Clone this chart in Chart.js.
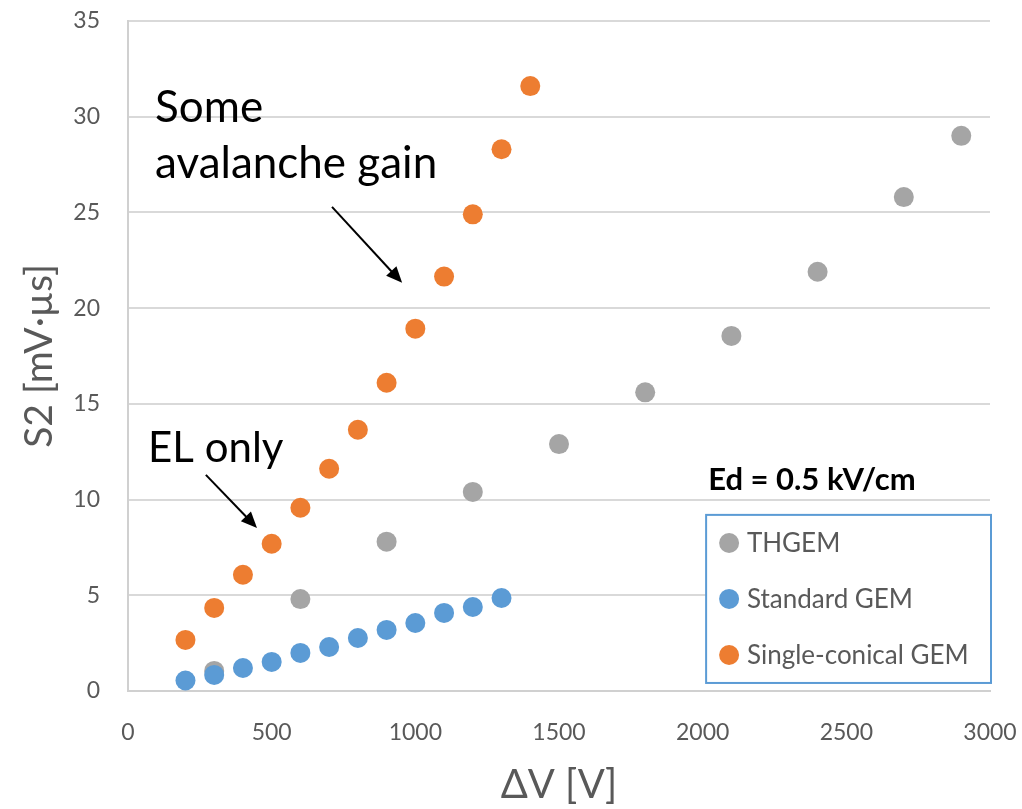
<!DOCTYPE html>
<html>
<head>
<meta charset="utf-8">
<script src="https://cdn.jsdelivr.net/npm/chart.js@4.4.0/dist/chart.umd.min.js"></script>
<style>
  html, body { margin: 0; padding: 0; background: #fff; }
  #wrap { width: 1022px; height: 809px; position: relative; }
</style>
</head>
<body>
<div id="wrap"><canvas id="myChart"></canvas></div>
<script>
// data
var thgemX = [300, 600, 900, 1200, 1500, 1800, 2100, 2400, 2700, 2900];
var thgemY = [1.05, 4.8, 7.8, 10.4, 12.9, 15.6, 18.55, 21.9, 25.8, 29.0];
var stdX = [200, 300, 400, 500, 600, 700, 800, 900, 1000, 1100, 1200, 1300];
var stdY = [0.55, 0.84, 1.2, 1.52, 1.99, 2.3, 2.77, 3.19, 3.55, 4.08, 4.39, 4.86];
var conX = [200, 300, 400, 500, 600, 700, 800, 900, 1000, 1100, 1200, 1300, 1400];
var conY = [2.67, 4.34, 6.07, 7.69, 9.57, 11.61, 13.65, 16.1, 18.93, 21.65, 24.9, 28.3, 31.6];
var seriesNames = ['THGEM', 'Standard GEM', 'Single-conical GEM'];
var seriesColors = ['#A5A5A5', '#5B9BD5', '#ED7D31'];
var xTicks = [0, 500, 1000, 1500, 2000, 2500, 3000];
var yTicks = [0, 5, 10, 15, 20, 25, 30, 35];

function pts(xs, ys) {
    return xs.map((x, i) => ({ x: x, y: ys[i] }));
}

var FONT = 'Lato, "Open Sans", sans-serif';

// annotations, legend box and notes, placed in data units
var overlay = {
    id: 'overlay',
    afterDraw(chart) {
        let c = chart.ctx, sx = chart.scales.x, sy = chart.scales.y, a = chart.chartArea;
        let X = v => sx.getPixelForValue(v), Y = v => sy.getPixelForValue(v);
        c.save();

        c.fillStyle = '#000';
        c.textBaseline = 'alphabetic';
        c.textAlign = 'left';
        c.font = '44px ' + FONT;
        c.fillText('Some', X(94), Y(29.73));
        c.fillText('avalanche gain', X(94), Y(26.8));
        c.font = '42px ' + FONT;
        c.fillText('EL only', X(70), Y(11.96));
        c.font = 'bold 31px ' + FONT;
        c.fillText('Ed = 0.5 kV/cm', X(2019), Y(10.5));

        function arrow(x1, y1, x2, y2) {
            let ang = Math.atan2(y2 - y1, x2 - x1), L = 16, W = 7;
            c.strokeStyle = '#000';
            c.lineWidth = 2;
            c.beginPath();
            c.moveTo(x1, y1);
            c.lineTo(x2 - Math.cos(ang) * L * 0.8, y2 - Math.sin(ang) * L * 0.8);
            c.stroke();
            c.fillStyle = '#000';
            c.beginPath();
            c.moveTo(x2, y2);
            c.lineTo(x2 - Math.cos(ang) * L - Math.sin(ang) * W, y2 - Math.sin(ang) * L + Math.cos(ang) * W);
            c.lineTo(x2 - Math.cos(ang) * L + Math.sin(ang) * W, y2 - Math.sin(ang) * L - Math.cos(ang) * W);
            c.closePath();
            c.fill();
        }
        arrow(X(710), Y(25.29), X(954), Y(21.32));
        arrow(X(271), Y(11.29), X(449), Y(8.52));

        // legend box
        let bx = X(2012), by = Y(9.2), bw = a.right + 1 - bx, bh = Y(0.42) - by;
        c.fillStyle = '#fff';
        c.fillRect(bx, by, bw, bh);
        c.strokeStyle = '#5B9BD5';
        c.lineWidth = 2;
        c.strokeRect(bx, by, bw, bh);
        let rows = [7.73, 4.81, 1.88];
        c.font = '26px ' + FONT;
        c.textBaseline = 'middle';
        seriesNames.forEach((n, i) => {
            c.fillStyle = seriesColors[i];
            c.beginPath();
            c.arc(X(2092), Y(rows[i]), 10, 0, Math.PI * 2);
            c.fill();
            c.fillStyle = '#595959';
            c.fillText(n, X(2154), Y(rows[i]) + 1);
        });
        c.restore();
    }
};

window.onload = function () {
    let ctx = document.getElementById('myChart').getContext('2d');
    new Chart(ctx, {
        type: 'scatter',
        data: {
            datasets: [
                { label: seriesNames[2], data: pts(conX, conY), backgroundColor: seriesColors[2] },
                { label: seriesNames[1], data: pts(stdX, stdY), backgroundColor: seriesColors[1] },
                { label: seriesNames[0], data: pts(thgemX, thgemY), backgroundColor: seriesColors[0] }
            ]
        },
        options: {
            responsive: true, maintainAspectRatio: false, animation: false,
            elements: { point: { radius: 10, borderWidth: 0, hoverRadius: 10 } },
            layout: { padding: { top: 21, right: 32, left: 0, bottom: 0 } },
            plugins: { legend: { display: false }, tooltip: { enabled: false } },
            scales: {
                x: {
                    type: 'linear', min: 0, max: 3000,
                    afterBuildTicks: s => { s.ticks = xTicks.map(v => ({ value: v })); },
                    afterFit: s => { s.height = 118; s.paddingLeft = 0; s.paddingRight = 0; },
                    grid: { display: false },
                    border: { display: true, color: '#D0D0D0', width: 2 },
                    ticks: { color: '#595959', font: { family: FONT, size: 23 }, padding: 20, maxRotation: 0, callback: v => String(v) },
                    title: { display: true, text: 'ΔV [V]', color: '#595959', font: { family: FONT, size: 40 }, padding: { top: 0, bottom: 0 } }
                },
                y: {
                    type: 'linear', min: 0, max: 35,
                    afterBuildTicks: s => { s.ticks = yTicks.map(v => ({ value: v })); },
                    afterFit: s => { s.width = 128; s.paddingTop = 0; s.paddingBottom = 0; },
                    grid: { color: '#D9D9D9', lineWidth: 2, drawTicks: false },
                    border: { display: true, color: '#D0D0D0', width: 2 },
                    ticks: { color: '#595959', font: { family: FONT, size: 23 }, padding: 28, callback: v => String(v) },
                    title: { display: true, text: 'S2 [mV·µs]', color: '#595959', font: { family: FONT, size: 39 }, padding: { top: 16, bottom: 0 } }
                }
            }
        },
        plugins: [overlay]
    });
};
</script>
</body>
</html>
